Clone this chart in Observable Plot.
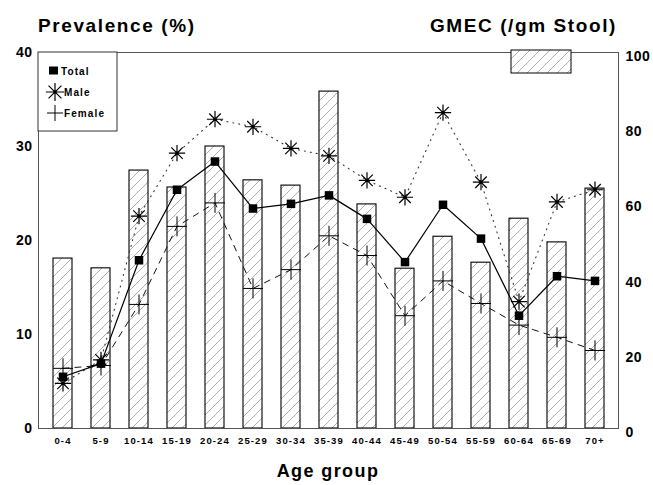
<!DOCTYPE html>
<html><head><meta charset="utf-8">
<script src="https://cdn.jsdelivr.net/npm/d3@7"></script>
<script src="https://cdn.jsdelivr.net/npm/@observablehq/plot@0.6"></script>
<style>
body{margin:0;background:#fff}
svg{display:block}
</style>
</head><body><div id="chart"></div>
<script>
const ageGroups = ["0-4","5-9","10-14","15-19","20-24","25-29","30-34","35-39","40-44","45-49","50-54","55-59","60-64","65-69","70+"];
const gmec   = [45.2, 42.6, 68.6, 64.1, 75.0, 66.0, 64.6, 89.6, 59.6, 42.5, 51.0, 44.1, 55.8, 49.5, 63.8];
const total  = [5.5, 6.9, 17.9, 25.4, 28.4, 23.4, 23.9, 24.8, 22.3, 17.7, 23.8, 20.2, 12.0, 16.2, 15.7];
const male   = [4.8, 7.3, 22.6, 29.3, 32.9, 32.1, 29.8, 29.0, 26.4, 24.6, 33.6, 26.2, 13.5, 24.1, 25.4];
const female = [6.4, 6.7, 13.2, 21.5, 24.0, 14.9, 16.9, 20.5, 18.4, 12.0, 15.7, 13.3, 11.0, 9.7, 8.3];
const leftTicks = [0, 10, 20, 30, 40];
const rightTicks = [0, 20, 40, 60, 80, 100];
const k = 40 / 100; // right axis -> left axis

const barData = ageGroups.map((a, i) => ({age: a, v: gmec[i] * k}));
const tot = ageGroups.map((a, i) => ({age: a, v: total[i]}));
const mal = ageGroups.map((a, i) => ({age: a, v: male[i]}));
const fem = ageGroups.map((a, i) => ({age: a, v: female[i]}));

const font = "'Liberation Sans', Arial, Helvetica, sans-serif";

const plot = Plot.plot({
  width: 653, height: 485,
  marginLeft: 38, marginRight: 35, marginTop: 52, marginBottom: 57,
  style: {fontFamily: font, background: "#fff", color: "#000", overflow: "visible"},
  x: {type: "band", domain: ageGroups, paddingInner: 0.5, paddingOuter: 0.25, label: null},
  y: {domain: [0, 40], label: null},
  marks: [
    Plot.barY(barData, {x: "age", y: "v", fill: "url(#hatch)", stroke: "#000", strokeWidth: 1.1}),
    Plot.frame({stroke: "#555", strokeWidth: 1}),
    Plot.lineY(mal, {x: "age", y: "v", stroke: "#333", strokeWidth: 1.1, strokeDasharray: "1,5"}),
    Plot.lineY(fem, {x: "age", y: "v", stroke: "#111", strokeWidth: 1, strokeDasharray: "6,6"}),
    Plot.lineY(tot, {x: "age", y: "v", stroke: "#000", strokeWidth: 1.2}),
    Plot.dot(fem, {x: "age", y: "v", symbol: "plus", stroke: "#000", strokeWidth: 1, r: 6.5}),
    Plot.dot(mal, {x: "age", y: "v", symbol: "plus", stroke: "#000", strokeWidth: 1.2, r: 5.3}),
    Plot.dot(mal, {x: "age", y: "v", symbol: "times", stroke: "#000", strokeWidth: 1.2, r: 5.3}),
    Plot.dot(mal, {x: "age", y: "v", fill: "#000", r: 1.8}),
    Plot.dot(tot, {x: "age", y: "v", symbol: "square", fill: "#000", r: 4.8}),
    Plot.axisY(leftTicks, {anchor: "left", tickSize: 0, tickPadding: 6, fontSize: 14, fontWeight: "bold"}),
    Plot.axisY(rightTicks.map(d => d * k), {anchor: "right", tickSize: 0, tickPadding: 7, fontSize: 14, fontWeight: "bold", dy: 4, tickFormat: d => String(Math.round(d / k))}),
    Plot.axisX({anchor: "bottom", tickSize: 0, tickPadding: 9, fontSize: 9.5, fontWeight: "bold"})
  ]
});

const svg = d3.select(plot);
const defs = svg.insert("defs", ":first-child");
const pat = defs.append("pattern").attr("id", "hatch").attr("patternUnits", "userSpaceOnUse")
  .attr("width", 10).attr("height", 10);
pat.append("rect").attr("width", 10).attr("height", 10).attr("fill", "#fff");
pat.append("path").attr("d", "M-1,1 l2,-2 M0,10 l10,-10 M9,11 l2,-2").attr("stroke", "#888").attr("stroke-width", 0.7);

// letter spacing on axis labels
svg.selectAll("g[aria-label='x-axis tick label'] text").style("letter-spacing", "1.1px");
svg.selectAll("g[aria-label='y-axis tick label'] text").style("letter-spacing", "0.5px");

// titles
svg.append("text").attr("x", 38).attr("y", 32).attr("text-anchor", "start").attr("font-family", font).attr("font-weight", "bold")
  .attr("font-size", 19).style("letter-spacing", "1.6px").text("Prevalence (%)");
svg.append("text").attr("x", 617).attr("y", 32).attr("text-anchor", "end").attr("font-family", font).attr("font-weight", "bold")
  .attr("font-size", 19).style("letter-spacing", "1.6px").text("GMEC (/gm Stool)");
svg.append("text").attr("x", 328).attr("y", 477).attr("text-anchor", "middle").attr("font-family", font).attr("font-weight", "bold")
  .attr("font-size", 18).style("letter-spacing", "1.4px").text("Age group");

// GMEC legend swatch
svg.append("rect").attr("x", 511).attr("y", 50).attr("width", 60).attr("height", 23)
  .attr("fill", "url(#hatch)").attr("stroke", "#000").attr("stroke-width", 1);

// prevalence legend
const lg = svg.append("g");
lg.append("rect").attr("x", 38).attr("y", 52).attr("width", 79).attr("height", 79)
  .attr("fill", "#fff").attr("stroke", "#333").attr("stroke-width", 1);
const items = [
  {label: "Total", y: 71},
  {label: "Male", y: 92},
  {label: "Female", y: 113}
];
lg.append("rect").attr("x", 49).attr("y", 66.5).attr("width", 9).attr("height", 8).attr("fill", "#000");
lg.append("path").attr("d", d3.symbol(d3.symbolPlus, 110)()).attr("transform", "translate(55,92)").attr("stroke", "#000").attr("stroke-width", 1.2).attr("fill", "none");
lg.append("path").attr("d", d3.symbol(d3.symbolTimes, 110)()).attr("transform", "translate(55,92)").attr("stroke", "#000").attr("stroke-width", 1.2).attr("fill", "none");
lg.append("circle").attr("cx", 55).attr("cy", 92).attr("r", 1.8).attr("fill", "#000");
lg.append("path").attr("d", "M47,113 H63 M55,105 V121").attr("stroke", "#000").attr("stroke-width", 1);
for (const it of items) {
  lg.append("text").attr("x", it.label === "Total" ? 61 : 64).attr("y", it.y + 3.5).attr("text-anchor", "start").attr("font-family", font)
    .attr("font-weight", "bold").attr("font-size", 10).style("letter-spacing", "1.1px").text(it.label);
}

document.getElementById("chart").appendChild(plot);
</script>
</body></html>
